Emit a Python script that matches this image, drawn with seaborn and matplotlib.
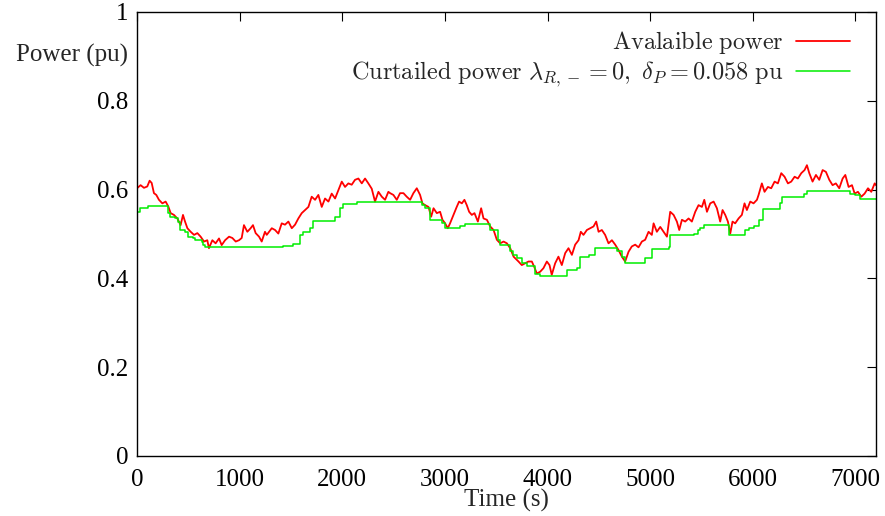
import numpy as np
import pandas as pd
import seaborn as sns
from matplotlib import pyplot as plt

# available power (t in s, p in pu)
red_t = [0, 35, 68, 100, 123, 143, 165, 188, 214, 247, 279, 305, 328, 360, 393, 425, 448, 468, 491, 523,
         556, 588, 620, 653, 685, 701, 734, 766, 799, 825, 858, 897, 929, 962, 994, 1020, 1042, 1075, 1107, 1130,
         1156, 1189, 1215, 1247, 1264, 1313, 1345, 1377, 1410, 1442, 1475, 1508, 1540, 1572, 1605, 1637, 1670, 1702, 1735, 1767,
         1800, 1832, 1865, 1897, 1930, 1962, 1995, 2027, 2059, 2092, 2124, 2157, 2190, 2222, 2254, 2287, 2319, 2352, 2385, 2417,
         2449, 2466, 2498, 2531, 2563, 2596, 2628, 2661, 2693, 2726, 2758, 2781, 2807, 2840, 2866, 2889, 2921, 2953, 2976, 3002,
         3028, 3050, 3083, 3115, 3138, 3165, 3190, 3213, 3236, 3262, 3288, 3321, 3353, 3376, 3409, 3441, 3474, 3506, 3539, 3571,
         3604, 3636, 3669, 3717, 3749, 3782, 3814, 3847, 3870, 3896, 3928, 3960, 3993, 4019, 4041, 4074, 4106, 4139, 4172, 4204,
         4237, 4269, 4302, 4324, 4350, 4383, 4415, 4448, 4474, 4497, 4529, 4561, 4594, 4627, 4659, 4691, 4724, 4756, 4789, 4821,
         4854, 4886, 4919, 4951, 4984, 5016, 5033, 5065, 5098, 5130, 5163, 5195, 5228, 5260, 5283, 5309, 5341, 5374, 5406, 5439,
         5471, 5504, 5527, 5553, 5585, 5618, 5650, 5682, 5705, 5731, 5757, 5780, 5802, 5828, 5861, 5893, 5919, 5942, 5975, 6007,
         6040, 6056, 6088, 6114, 6147, 6179, 6212, 6244, 6277, 6309, 6342, 6374, 6407, 6439, 6472, 6504, 6527, 6550, 6582, 6615,
         6647, 6680, 6712, 6745, 6777, 6809, 6842, 6875, 6901, 6933, 6966, 6992, 7024, 7057, 7089, 7122, 7154, 7187, 7200]
red_p = [0.603, 0.610, 0.604, 0.607, 0.620, 0.615, 0.592, 0.588, 0.577, 0.569, 0.573, 0.562, 0.547, 0.543, 0.535, 0.520, 0.543, 0.528, 0.513, 0.505,
         0.498, 0.502, 0.494, 0.483, 0.486, 0.468, 0.486, 0.479, 0.490, 0.475, 0.486, 0.494, 0.491, 0.483, 0.486, 0.491, 0.520, 0.505, 0.513, 0.520,
         0.502, 0.494, 0.483, 0.505, 0.498, 0.513, 0.509, 0.501, 0.524, 0.521, 0.528, 0.513, 0.521, 0.535, 0.547, 0.554, 0.561, 0.584, 0.577, 0.588,
         0.561, 0.580, 0.573, 0.591, 0.580, 0.599, 0.618, 0.606, 0.614, 0.611, 0.622, 0.625, 0.614, 0.625, 0.614, 0.602, 0.573, 0.595, 0.584, 0.577,
         0.595, 0.592, 0.588, 0.577, 0.592, 0.592, 0.584, 0.577, 0.592, 0.603, 0.588, 0.569, 0.565, 0.561, 0.539, 0.558, 0.547, 0.550, 0.532, 0.524,
         0.513, 0.524, 0.543, 0.561, 0.573, 0.569, 0.577, 0.565, 0.550, 0.543, 0.547, 0.528, 0.558, 0.535, 0.532, 0.517, 0.509, 0.487, 0.479, 0.483,
         0.479, 0.468, 0.449, 0.438, 0.430, 0.434, 0.438, 0.438, 0.426, 0.411, 0.415, 0.423, 0.438, 0.430, 0.408, 0.434, 0.449, 0.430, 0.457, 0.468,
         0.453, 0.476, 0.486, 0.505, 0.498, 0.509, 0.513, 0.517, 0.528, 0.505, 0.509, 0.498, 0.479, 0.486, 0.476, 0.464, 0.449, 0.438, 0.460, 0.472,
         0.476, 0.470, 0.483, 0.487, 0.505, 0.498, 0.524, 0.505, 0.516, 0.505, 0.494, 0.550, 0.543, 0.528, 0.509, 0.532, 0.528, 0.535, 0.528, 0.550,
         0.565, 0.561, 0.577, 0.550, 0.569, 0.573, 0.558, 0.528, 0.554, 0.543, 0.528, 0.501, 0.528, 0.524, 0.535, 0.543, 0.569, 0.554, 0.573, 0.569,
         0.577, 0.588, 0.614, 0.595, 0.606, 0.603, 0.618, 0.614, 0.637, 0.629, 0.614, 0.618, 0.629, 0.625, 0.637, 0.644, 0.655, 0.637, 0.618, 0.633,
         0.622, 0.644, 0.640, 0.622, 0.610, 0.614, 0.603, 0.625, 0.633, 0.606, 0.610, 0.591, 0.595, 0.584, 0.591, 0.603, 0.595, 0.614, 0.610]

# curtailed power, staircase (level holds from each time onward)
green_t = [0, 25, 110, 305, 322, 370, 396, 419, 468, 494, 549, 565, 630, 646, 663, 1426, 1524, 1589, 1621, 1686,
           1712, 1930, 1979, 2011, 2141, 2775, 2807, 2856, 2970, 3002, 3035, 3148, 3197, 3440, 3522, 3538, 3635, 3668, 3700, 3749,
           3798, 3879, 3928, 4188, 4286, 4318, 4399, 4464, 4675, 4724, 4756, 4951, 5016, 5179, 5195, 5422, 5461, 5487, 5520, 5763,
           5786, 5926, 5958, 6007, 6056, 6098, 6267, 6283, 6494, 6525, 6949, 6995, 7040, 7200]
green_p = [0.549, 0.558, 0.564, 0.547, 0.539, 0.535, 0.528, 0.509, 0.505, 0.494, 0.490, 0.486, 0.483, 0.475, 0.471, 0.474, 0.477, 0.498, 0.505, 0.513,
           0.530, 0.539, 0.558, 0.568, 0.571, 0.565, 0.558, 0.532, 0.524, 0.513, 0.513, 0.518, 0.522, 0.509, 0.487, 0.475, 0.462, 0.453, 0.445, 0.434,
           0.428, 0.411, 0.406, 0.419, 0.423, 0.449, 0.453, 0.468, 0.462, 0.449, 0.435, 0.447, 0.466, 0.471, 0.497, 0.500, 0.509, 0.513, 0.520, 0.498,
           0.497, 0.509, 0.513, 0.519, 0.532, 0.556, 0.570, 0.584, 0.589, 0.596, 0.591, 0.588, 0.579, 0.579]

xticks = [0, 1000, 2000, 3000, 4000, 5000, 6000, 7000]
yticks = [0, 0.2, 0.4, 0.6, 0.8, 1]
ytick_labels = ['0', '0.2', '0.4', '0.6', '0.8', '1']

sns.set_theme(style='white')
plt.rcParams['font.family'] = ['Liberation Serif', 'DejaVu Serif']
plt.rcParams['mathtext.fontset'] = 'cm'

avail = pd.DataFrame({'t': red_t, 'p': red_p})
curt = pd.DataFrame({'t': green_t, 'p': green_p})

fig = plt.figure(figsize=(8.85, 5.16), dpi=100)
ax = fig.add_axes([137 / 885, 60 / 516, 739 / 885, 444 / 516])

sns.lineplot(data=avail, x='t', y='p', ax=ax, color='#ff0000', linewidth=1.3,
             estimator=None, sort=False, label=r'$\mathrm{Avalaible\ power}$')
sns.lineplot(data=curt, x='t', y='p', ax=ax, color='#00ee00', linewidth=1.1,
             estimator=None, sort=False, drawstyle='steps-post',
             label=r'$\mathrm{Curtailed\ power}\ \lambda_{R,-}=0,\ \delta_P=0.058\ \mathrm{pu}$')

ax.set_xlim(0, 7200)
ax.set_ylim(0, 1)
ax.set_xticks(xticks)
ax.set_yticks(yticks)
ax.set_yticklabels(ytick_labels)
ax.tick_params(direction='in', length=6.5, width=0.8, top=True, right=True,
               labelsize=18, colors='black', pad=6)
ax.tick_params(axis='x', pad=9)
for s in ax.spines.values():
    s.set_color('black')
    s.set_linewidth(1.0)

ax.set_xlabel('Time (s)', fontsize=18, labelpad=-1)
ax.set_ylabel('Power (pu)', fontsize=18, rotation=0, ha='right', va='center')
ax.yaxis.set_label_coords(-0.012, 0.902)

ax.legend(loc='upper right', bbox_to_anchor=(0.981, 0.988), frameon=False,
          markerfirst=False, fontsize=17.5, handlelength=2.22, handletextpad=0.5,
          borderpad=0, labelspacing=0.12)

fig.savefig('out.png', dpi=100)
